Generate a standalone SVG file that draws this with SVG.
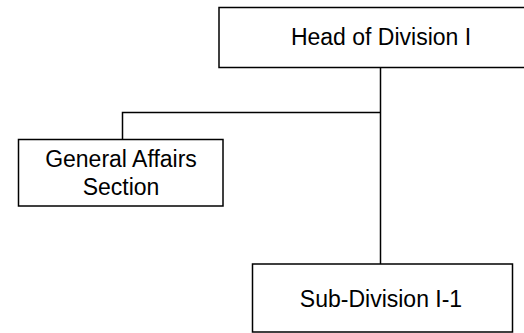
<svg xmlns="http://www.w3.org/2000/svg" width="524" height="333" viewBox="0 0 524 333">
  <style>
    .box { fill: #ffffff; stroke: #000000; stroke-width: 1.5; }
    .lbl { font-family: "Liberation Sans", Arial, sans-serif; font-size: 23px; fill: #000000; text-anchor: middle; }
    .conn { fill: none; stroke: #000000; stroke-width: 1.5; }
  </style>
  <rect width="524" height="333" fill="#ffffff"/>
  <g id="connectors">
    <path class="conn" d="M380.5 67.5 V264"/>
    <path class="conn" d="M380.5 112.5 H122.5 V139.5"/>
  </g>
  <g id="head">
    <rect class="box" x="219" y="7.5" width="322" height="60"/>
    <text class="lbl" x="381" y="45">Head of Division I</text>
  </g>
  <g id="general-affairs">
    <rect class="box" x="18.5" y="139.5" width="204.5" height="66.5"/>
    <text class="lbl" x="121" y="166.5">General Affairs</text>
    <text class="lbl" x="121" y="195">Section</text>
  </g>
  <g id="sub-division">
    <rect class="box" x="252.5" y="264" width="260" height="68"/>
    <text class="lbl" x="381" y="306.5">Sub-Division I-1</text>
  </g>
</svg>
